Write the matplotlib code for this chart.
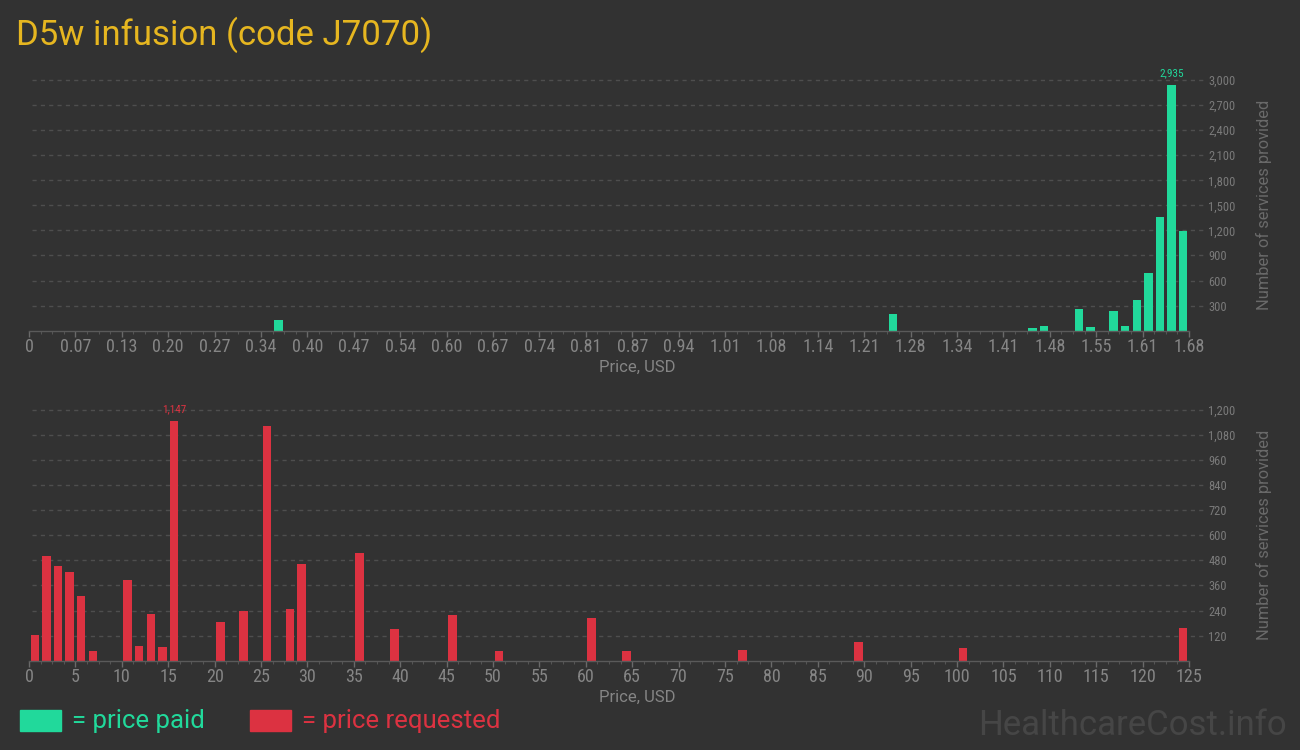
import numpy as np
import matplotlib
matplotlib.use('Agg')
import matplotlib.pyplot as plt
from matplotlib import font_manager
from matplotlib.patches import Rectangle
import matplotlib.transforms as mtransforms

#####################
# DATA (histogram bins, lower edge in USD -> number of services)
#####################
paid_bin_start = [0.3528, 1.2432, 1.4448, 1.4616, 1.5120, 1.5288, 1.5624,
                  1.5792, 1.5960, 1.6128, 1.6296, 1.6464, 1.6632]
paid_count = [125, 205, 30, 55, 260, 42, 235, 55, 365, 690, 1365, 2935, 1195]

req_bin_start = [0, 1.25, 2.5, 3.75, 5, 6.25, 10, 11.25, 12.5, 13.75, 15,
                 20, 22.5, 25, 27.5, 28.75, 35, 38.75, 45, 50, 60, 63.75,
                 76.25, 88.75, 100, 123.75]
req_count = [123, 503, 455, 426, 311, 47, 387, 71, 224, 66, 1147, 186, 239,
             1123, 248, 464, 517, 152, 219, 47, 205, 47, 51, 89, 61, 157]

paid_max = 1.68
req_max = 125
n_bins = 100

paid_yticks = list(range(300, 3001, 300))
req_yticks = list(range(120, 1201, 120))

title = 'D5w infusion (code J7070)'

#####################
# STYLE
#####################
BG = '#323232'
GREEN = '#21d99b'
RED = '#dc3241'
GOLD = '#e6b620'
TICK = '#858585'
GRID = '#4e4e4e'

names = {f.name for f in font_manager.fontManager.ttflist}
narrow = next((n for n in ['Roboto Condensed', 'Liberation Sans Narrow',
                           'Open Sans Condensed'] if n in names), 'Roboto')
main_font = ['Roboto', 'DejaVu Sans']
narrow_font = [narrow, 'DejaVu Sans']
is_narrow = narrow != 'Roboto'

fig = plt.figure(figsize=(13, 7.5), dpi=100, facecolor=BG)

W, H = 1300.0, 750.0
left = 29 / W
width = 1160 / W
ax_top = fig.add_axes([left, 1 - 330.7 / H, width, 250.7 / H])
ax_bot = fig.add_axes([left, 1 - 660.7 / H, width, 250.7 / H])


def style_axis(ax, xmax, yticks, xmajor, xlabels):
    ax.set_facecolor(BG)
    ax.set_xlim(0, xmax)
    ax.set_ylim(0, yticks[-1])
    for s in ['top', 'left', 'right']:
        ax.spines[s].set_visible(False)
    ax.spines['bottom'].set_color('#5a5a5a')
    ax.spines['bottom'].set_linewidth(1)

    ax.set_xticks(xmajor)
    ax.set_xticklabels(xlabels)
    ax.set_xticks(np.linspace(0, xmax, n_bins + 1), minor=True)
    ax.tick_params(axis='x', which='major', length=4, width=1, color='#6a6a6a',
                   labelcolor=TICK, labelsize=13 if is_narrow else 10.5, pad=1.5)
    ax.tick_params(axis='x', which='minor', length=2.5, width=0.8, color='#555555')
    for lab in ax.get_xticklabels():
        lab.set_family(narrow_font)

    ax.yaxis.tick_right()
    ax.set_yticks(yticks)
    ax.set_yticklabels([f'{v:,}' for v in yticks])
    ax.tick_params(axis='y', length=0, pad=14, labelcolor='#7a7a7a',
                   labelsize=9 if is_narrow else 7)
    for lab in ax.get_yticklabels():
        lab.set_family(narrow_font)
        lab.set_horizontalalignment('left')

    # dashed grid lines running a little past the plot area
    trans = mtransforms.blended_transform_factory(ax.transAxes, ax.transData)
    for v in yticks:
        ax.plot([0.0026, 1.0138], [v, v], transform=trans, color=GRID,
                lw=1, ls=(0, (3, 3)), clip_on=False, zorder=0)

    ax.set_xlabel('Price, USD', color=TICK, fontsize=12, family=main_font)
    ax.xaxis.set_label_coords((637 - 29) / 1160, -0.117)
    ax.set_ylabel('Number of services provided', color='#6a6a6a', fontsize=11.8,
                  family=main_font)
    ax.yaxis.set_label_position('right')
    ax.yaxis.set_label_coords((1256 - 29) / 1160, 0.5)


paid_ticks = np.linspace(0, paid_max, 26)
paid_labels = ['0'] + [f'{v:.2f}' for v in paid_ticks[1:]]
style_axis(ax_top, paid_max, paid_yticks, paid_ticks, paid_labels)

req_ticks = np.arange(0, req_max + 1, 5)
req_labels = [str(v) for v in req_ticks]
style_axis(ax_bot, req_max, req_yticks, req_ticks, req_labels)

# bars
pw = paid_max / n_bins
ax_top.bar(np.array(paid_bin_start) + pw / 2, paid_count, width=pw * 0.72,
           color=GREEN, zorder=2)
rw = req_max / n_bins
ax_bot.bar(np.array(req_bin_start) + rw / 2, req_count, width=rw * 0.72,
           color=RED, zorder=2)

# labels for the tallest bars
i = int(np.argmax(paid_count))
ax_top.annotate(f'{paid_count[i]:,}', (paid_bin_start[i] + pw / 2, paid_count[i]),
                xytext=(0, 5), textcoords='offset points', ha='center', va='bottom',
                color=GREEN, fontsize=8 if is_narrow else 6.5, family=narrow_font,
                annotation_clip=False)
j = int(np.argmax(req_count))
ax_bot.annotate(f'{req_count[j]:,}', (req_bin_start[j] + rw / 2, req_count[j]),
                xytext=(0, 5), textcoords='offset points', ha='center', va='bottom',
                color=RED, fontsize=8 if is_narrow else 6.5, family=narrow_font,
                annotation_clip=False)

# title
fig.text(16 / W, 1 - 45 / H, title, color=GOLD, fontsize=25, family=main_font,
         ha='left', va='baseline')

# legend
fig.patches.append(Rectangle((20 / W, 1 - 731 / H), 41 / W, 21 / H,
                             transform=fig.transFigure, color=GREEN))
fig.text(72 / W, 1 - 721 / H, '= price paid', color=GREEN, fontsize=18.5,
         family=main_font, ha='left', va='center')
fig.patches.append(Rectangle((250 / W, 1 - 731 / H), 41 / W, 21 / H,
                             transform=fig.transFigure, color=RED))
fig.text(302 / W, 1 - 721 / H, '= price requested', color=RED, fontsize=18.5,
         family=main_font, ha='left', va='center')

# watermark
fig.text(1287 / W, 1 - 735 / H, 'HealthcareCost.info', color='#464646',
         fontsize=25, family=main_font, ha='right', va='baseline')

fig.savefig('out.png', dpi=100, facecolor=BG)
